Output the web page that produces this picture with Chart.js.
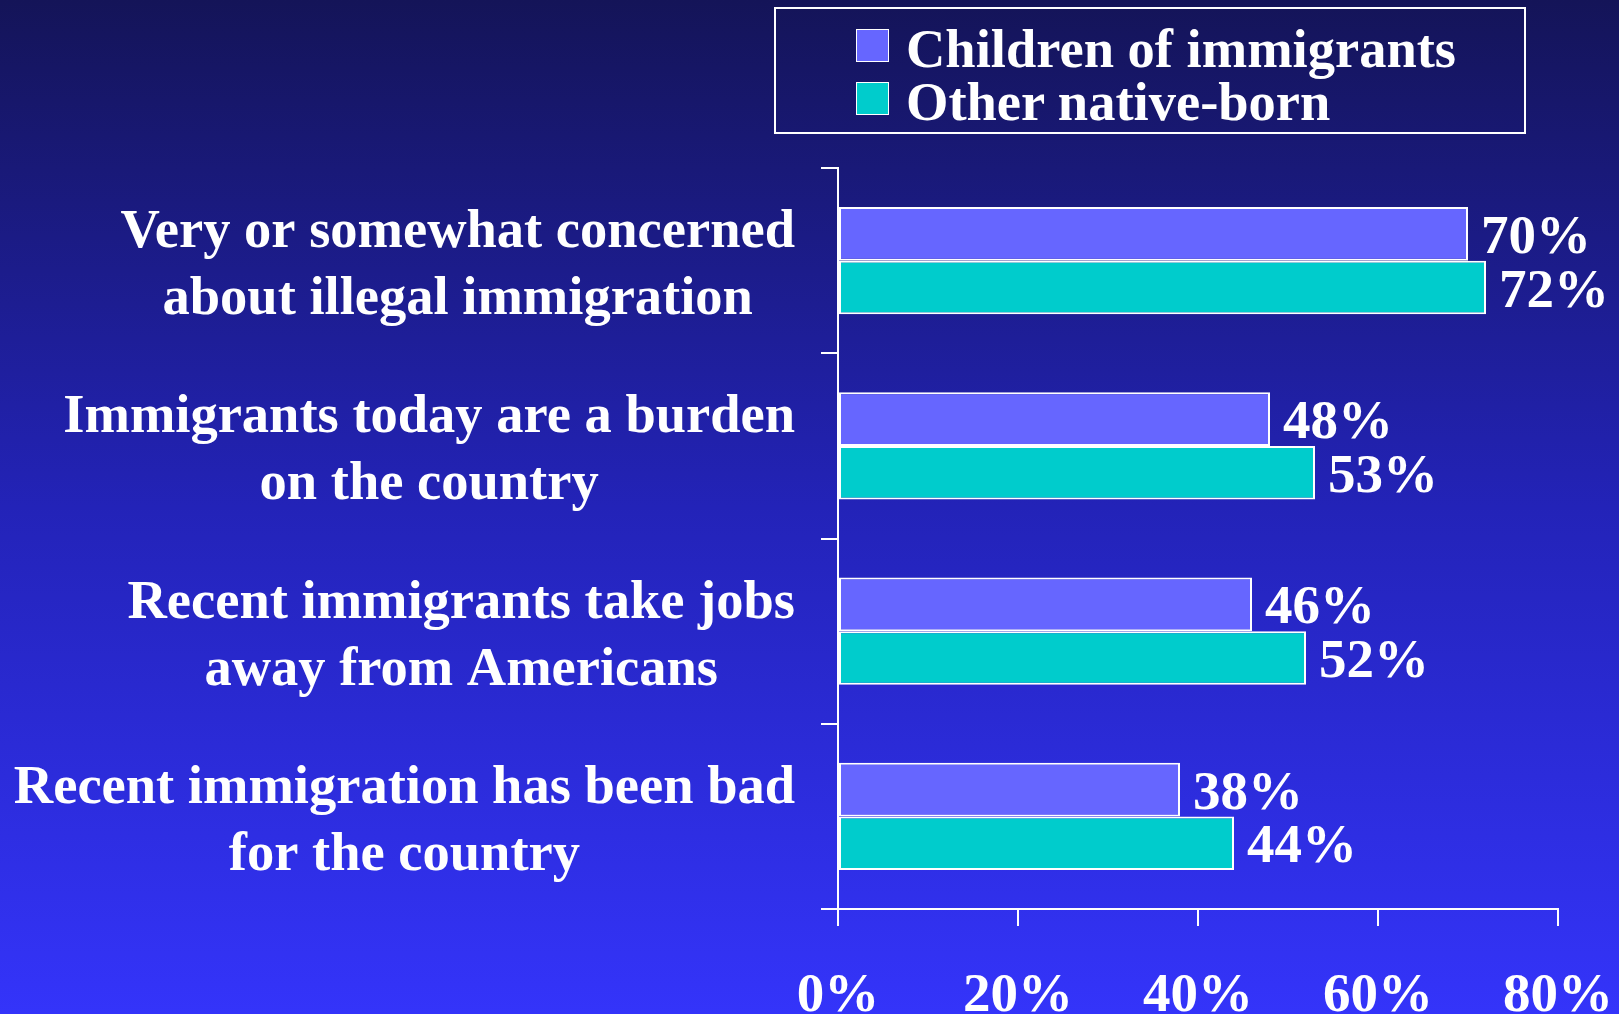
<!DOCTYPE html>
<html>
<head>
<meta charset="utf-8">
<script src="https://cdn.jsdelivr.net/npm/chart.js@4/dist/chart.umd.min.js"></script>
<style>
  html, body {
    margin: 0;
    padding: 0;
    width: 1619px;
    height: 1014px;
    overflow: hidden;
  }
  body {
    background: linear-gradient(to bottom, #141458 0%, #2323b8 50%, #3434fa 100%);
    font-family: "Liberation Serif", "Times New Roman", serif;
    position: relative;
  }
  #chart-wrap {
    position: absolute;
    left: 0;
    top: 0;
    width: 1619px;
    height: 1014px;
  }
  #legend {
    position: absolute;
    left: 774px;
    top: 7px;
    width: 748px;
    height: 123px;
    border: 2px solid #ffffff;
    box-sizing: content-box;
  }
  .legend-item {
    position: absolute;
    left: 80px;
    height: 56px;
    display: flex;
    align-items: center;
    color: #ffffff;
    font-weight: bold;
    font-size: 54.5px;
    white-space: nowrap;
  }
  .legend-swatch {
    width: 31px;
    height: 31px;
    border: 1.5px solid #ffffff;
    margin-right: 17px;
    position: relative;
    top: -3px;
  }
</style>
</head>
<body>
<div id="chart-wrap"><canvas id="chart" width="1619" height="1014"></canvas></div>
<div id="legend"></div>
<script>
const categories = [
  ["Very or somewhat concerned", "about illegal immigration"],
  ["Immigrants today are a burden", "on the country"],
  ["Recent immigrants take jobs", "away from Americans"],
  ["Recent immigration has been bad", "for the country"],
];
const seriesNames = ["Children of immigrants", "Other native-born"];
const childrenValues = [70, 48, 46, 38];
const nativeValues = [72, 53, 52, 44];
const xTicks = [0, 20, 40, 60, 80];

const colors = ["#6666ff", "#00cccc"];
const textFont = '"Liberation Serif", "Times New Roman", serif';

// Category labels: centered block, right edge of widest line at fixed x
const categoryLabels = {
  id: "categoryLabels",
  afterDraw(chart) {
    const ctx = chart.ctx;
    const yScale = chart.scales.y;
    const rightEdge = 795;
    const lineGap = 67;
    ctx.save();
    ctx.font = `bold 54.5px ${textFont}`;
    ctx.fillStyle = "#ffffff";
    ctx.textAlign = "center";
    ctx.textBaseline = "middle";
    categories.forEach((lines, i) => {
      const cy = yScale.getPixelForValue(i) + 6;
      const maxW = Math.max(...lines.map((l) => ctx.measureText(l).width));
      const cx = rightEdge - maxW / 2;
      const startY = cy - ((lines.length - 1) * lineGap) / 2;
      lines.forEach((line, j) => {
        ctx.fillText(line, cx, startY + j * lineGap);
      });
    });
    ctx.restore();
  },
};

// Value labels at bar ends
const valueLabels = {
  id: "valueLabels",
  afterDatasetsDraw(chart) {
    const ctx = chart.ctx;
    ctx.save();
    ctx.font = `bold 55px ${textFont}`;
    ctx.fillStyle = "#ffffff";
    ctx.textAlign = "left";
    ctx.textBaseline = "middle";
    chart.data.datasets.forEach((ds, di) => {
      const meta = chart.getDatasetMeta(di);
      meta.data.forEach((bar, i) => {
        ctx.fillText(ds.data[i] + "%", bar.x + 13, bar.y + 5);
      });
    });
    ctx.restore();
  },
};

const ctx = document.getElementById("chart").getContext("2d");

new Chart(ctx, {
  type: "bar",
  data: {
    labels: categories,
    datasets: [
      {
        label: seriesNames[0],
        data: childrenValues,
        backgroundColor: colors[0],
        borderColor: "#ffffff",
        borderWidth: 2,
        borderSkipped: false,
      },
      {
        label: seriesNames[1],
        data: nativeValues,
        backgroundColor: colors[1],
        borderColor: "#ffffff",
        borderWidth: 2,
        borderSkipped: false,
      },
    ],
  },
  options: {
    indexAxis: "y",
    responsive: false,
    animation: false,
    events: [],
    categoryPercentage: 0.58,
    barPercentage: 1.0,
    layout: {
      padding: { left: 0, right: 61, top: 168, bottom: 0 },
    },
    plugins: {
      legend: { display: false },
      tooltip: { enabled: false },
    },
    scales: {
      x: {
        min: 0,
        max: 80,
        afterBuildTicks(scale) {
          scale.ticks = xTicks.map((v) => ({ value: v }));
        },
        afterFit(scale) {
          scale.height = 105;
          scale.paddingLeft = 0;
          scale.paddingRight = 0;
        },
        border: { display: true, color: "#ffffff", width: 2 },
        grid: {
          drawOnChartArea: false,
          drawTicks: true,
          tickLength: 17,
          color: "#ffffff",
          lineWidth: 2,
        },
        ticks: {
          color: "#ffffff",
          padding: 38,
          maxRotation: 0,
          font: { family: textFont, size: 55, weight: "bold" },
          callback: (v) => v + "%",
        },
      },
      y: {
        afterFit(scale) {
          scale.width = 838;
        },
        offset: true,
        border: { display: true, color: "#ffffff", width: 2 },
        grid: {
          offset: true,
          drawOnChartArea: false,
          drawTicks: true,
          tickLength: 17,
          color: "#ffffff",
          lineWidth: 2,
        },
        ticks: { display: false },
      },
    },
  },
  plugins: [categoryLabels, valueLabels],
});

// HTML legend
const legendEl = document.getElementById("legend");
seriesNames.forEach((name, i) => {
  const item = document.createElement("div");
  item.classList.add("legend-item");
  item.style.top = i === 0 ? "11px" : "64px";
  const swatch = document.createElement("div");
  swatch.classList.add("legend-swatch");
  swatch.style.background = colors[i];
  const label = document.createElement("span");
  label.textContent = name;
  item.appendChild(swatch);
  item.appendChild(label);
  legendEl.appendChild(item);
});
</script>
</body>
</html>
